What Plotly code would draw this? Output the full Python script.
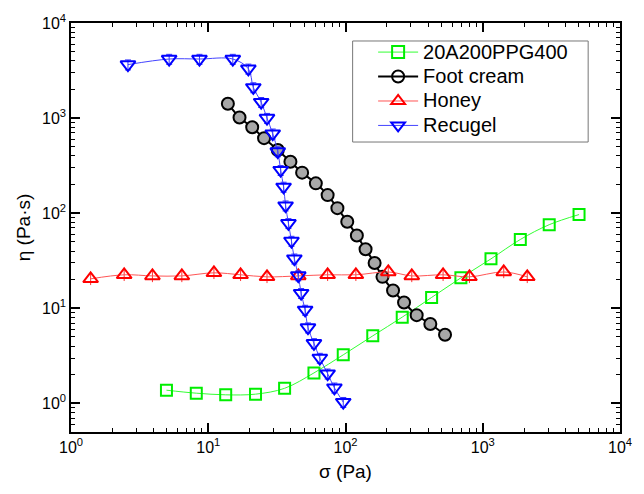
import plotly.graph_objects as go
import math

# ---- data ----
ppg_sigma = [4.96, 8.18, 13.4, 22.1, 36.0, 58.9, 96.3, 158, 259, 424, 693, 1148, 1878, 3050, 5030]
ppg_eta = [1.376, 1.28, 1.23, 1.25, 1.44, 2.09, 3.24, 5.13, 8.07, 13.0, 20.9, 33.1, 52.9, 75.7, 96.7]

foot_sigma = [13.9, 16.9, 20.9, 25.5, 32.1, 39.7, 48.3, 60.8, 74.1, 87.3, 103, 121, 140, 163, 186, 222, 267, 330, 415, 531]
foot_eta = [1416, 1015, 800, 615, 462, 347, 267, 206, 155, 113, 81.3, 58.2, 41.7, 29.9, 21.4, 15.4, 11.5, 8.47, 6.83, 5.26]

honey_sigma = [1.39, 2.44, 3.92, 6.42, 11.0, 17.2, 26.8, 45.3, 74.1, 119, 205, 304, 514, 800, 1422, 2110]
honey_eta = [20.4, 22.5, 21.9, 21.9, 23.6, 22.5, 21.4, 21.9, 22.5, 22.5, 24.1, 21.9, 22.5, 21.4, 24.1, 21.4]

recu_sigma = [2.60, 5.19, 8.63, 15.1, 19.6, 21.3, 24.3, 26.8, 29.5, 32.1, 33.7, 35.4, 36.6, 38.4, 40.4,
              42.4, 45.3, 47.5, 50.8, 53.3, 58.9, 65.0, 74.1, 83.0, 96.3]
recu_eta = [3650, 4180, 4180, 4180, 3300, 2100, 1470, 1000, 685, 445, 283, 189, 120, 78.3, 51.0,
            33.2, 22.1, 14.4, 9.6, 6.26, 4.28, 3.0, 2.05, 1.46, 1.03]

names = ["20A200PPG400", "Foot cream", "Honey", "Recugel"]
x_tick_vals = [1, 10, 100, 1000, 10000]
x_tick_text = ["10<sup>0</sup>", "10<sup>1</sup>", "10<sup>2</sup>", "10<sup>3</sup>", "10<sup>4</sup>"]
y_tick_vals = [1, 10, 100, 1000, 10000]
y_tick_text = ["10<sup>0</sup>", "10<sup>1</sup>", "10<sup>2</sup>", "10<sup>3</sup>", "10<sup>4</sup>"]

FONT = "Liberation Sans, Arial, sans-serif"

fig = go.Figure()

# data traces
fig.add_trace(go.Scatter(
    x=ppg_sigma, y=ppg_eta, mode="lines+markers", showlegend=False,
    line=dict(color="#33ff33", width=1, shape="spline"),
    marker=dict(symbol="square-open", size=11, color="#00ee00", line=dict(width=2, color="#00ee00"))))
fig.add_trace(go.Scatter(
    x=foot_sigma, y=foot_eta, mode="lines+markers", showlegend=False,
    line=dict(color="black", width=2, shape="spline"),
    marker=dict(symbol="circle", size=12, color="#a8a8a8", line=dict(width=2, color="black"))))
fig.add_trace(go.Scatter(
    x=honey_sigma, y=honey_eta, mode="lines+markers", showlegend=False,
    line=dict(color="#ff5555", width=1, shape="spline"),
    error_y=dict(type="percent", value=14, color="#ff3333", thickness=1, width=0),
    marker=dict(symbol="triangle-up-open", size=13, color="#ff0000", line=dict(width=2, color="#ff0000"))))
fig.add_trace(go.Scatter(
    x=recu_sigma, y=recu_eta, mode="lines+markers", showlegend=False,
    line=dict(color="#4444ff", width=1, shape="spline"),
    error_y=dict(type="percent", value=12, color="#3333ff", thickness=1, width=3),
    marker=dict(symbol="triangle-down-open", size=13, color="#0000ff", line=dict(width=2, color="#0000ff"))))

# legend entries (open markers, as in the reference legend)
legend_styles = [
    ("#33ff33", 1, "square-open", "#00ee00"),
    ("black", 2, "circle-open", "black"),
    ("#ff5555", 1, "triangle-up-open", "#ff0000"),
    ("#4444ff", 1, "triangle-down-open", "#0000ff"),
]
for i, (name, (lc, lw, sym, mc)) in enumerate(zip(names, legend_styles)):
    label = '<span style="font-size:20px">' + name + "</span>"
    fig.add_trace(go.Scatter(
        x=[None], y=[None], mode="lines+markers", name=label,
        line=dict(color=lc, width=lw),
        marker=dict(symbol=sym, size=12, color=mc, line=dict(width=2, color=mc))))

axis_common = dict(
    type="log", showgrid=False, zeroline=False,
    showline=True, linecolor="black", linewidth=1.5, mirror="allticks",
    ticks="inside", ticklen=9, tickwidth=1.5, tickcolor="black",
    tickfont=dict(family=FONT, size=16, color="black"),
    minor=dict(ticks="inside", ticklen=4, tickwidth=1, tickcolor="black", dtick="D1"),
)

fig.update_xaxes(range=[0, 4], tickvals=x_tick_vals, ticktext=x_tick_text,
                 title=dict(text="σ (Pa)", font=dict(family=FONT, size=19, color="black"), standoff=10),
                 **axis_common)
fig.update_yaxes(range=[math.log10(0.5), 4], tickvals=y_tick_vals, ticktext=y_tick_text,
                 title=dict(text="η (Pa·s)", font=dict(family=FONT, size=19, color="black"), standoff=6),
                 **axis_common)

# legend frame (decorative box behind the legend)
fig.add_shape(type="rect", xref="paper", yref="paper",
              x0=0.513, x1=0.942, y0=0.709, y1=0.956,
              line=dict(color="#777777", width=1), fillcolor="white", layer="above")

fig.update_layout(
    width=644, height=494,
    margin=dict(l=71, r=12, t=16, b=62),
    paper_bgcolor="white", plot_bgcolor="white",
    font=dict(family=FONT, size=16, color="black"),
    legend=dict(x=0.5503, y=0.971, xanchor="left", yanchor="top",
                bgcolor="rgba(0,0,0,0)", borderwidth=0,
                font=dict(family=FONT, size=16.5, color="black"),
                tracegroupgap=0, itemwidth=40),
    showlegend=True,
)

fig.write_html("out.html")
